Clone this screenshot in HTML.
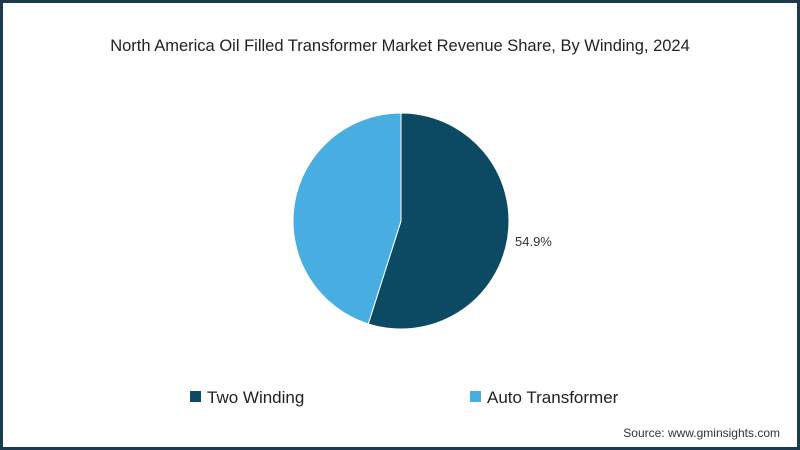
<!DOCTYPE html>
<html><head><meta charset="utf-8"><style>
body{margin:0;width:800px;height:450px;overflow:hidden;background:#fff;font-family:"Liberation Sans",sans-serif}
#frame{position:absolute;left:0;top:0;width:794px;height:444px;border:3px solid #1c3b4f;background:#fff}
</style></head><body>
<div id="frame"></div>
<svg width="800" height="450" style="position:absolute;left:0;top:0">
<text x="400" y="51" text-anchor="middle" font-size="16.5" fill="#222">North America Oil Filled Transformer Market Revenue Share, By Winding, 2024</text>
<g id="pie"></g>
<text x="515" y="246" font-size="13" fill="#333" id="lbl"></text>
<g id="legend"></g>
<text x="780" y="437" text-anchor="end" font-size="12" fill="#333">Source: www.gminsights.com</text>
</svg>
<script>
const categories=["Two Winding","Auto Transformer"];
const values=[54.9,45.1];
const colors=["#0b4a62","#48ade1"];
const cx=401,cy=221,r=108;
const ns="http://www.w3.org/2000/svg";
const pie=document.getElementById('pie');
const total=values.reduce((a,b)=>a+b,0);
let a0=0;
values.forEach((v,i)=>{
  const a1=a0+v/total*2*Math.PI;
  const x0=cx+r*Math.sin(a0),y0=cy-r*Math.cos(a0),x1=cx+r*Math.sin(a1),y1=cy-r*Math.cos(a1);
  const p=document.createElementNS(ns,'path');
  p.setAttribute('d',`M${cx},${cy}L${x0},${y0}A${r},${r} 0 ${a1-a0>Math.PI?1:0} 1 ${x1},${y1}Z`);
  p.setAttribute('fill',colors[i]);p.setAttribute('stroke','#fff');p.setAttribute('stroke-width','1');
  
  
  pie.appendChild(p);a0=a1;
});
document.getElementById('lbl').textContent=values[0].toFixed(1)+'%';
const lg=document.getElementById('legend');
const lx=[190,470];
categories.forEach((c,i)=>{
  const g=document.createElementNS(ns,'g');
  
  
  const s=document.createElementNS(ns,'rect');
  s.setAttribute('x',lx[i]);s.setAttribute('y',391);s.setAttribute('width',11);s.setAttribute('height',11);s.setAttribute('fill',colors[i]);
  const t=document.createElementNS(ns,'text');
  t.setAttribute('x',lx[i]+17);t.setAttribute('y',403);t.setAttribute('font-size','17');t.setAttribute('fill','#222');
  t.textContent=c;
  g.appendChild(s);g.appendChild(t);lg.appendChild(g);
});
</script>
</body></html>
